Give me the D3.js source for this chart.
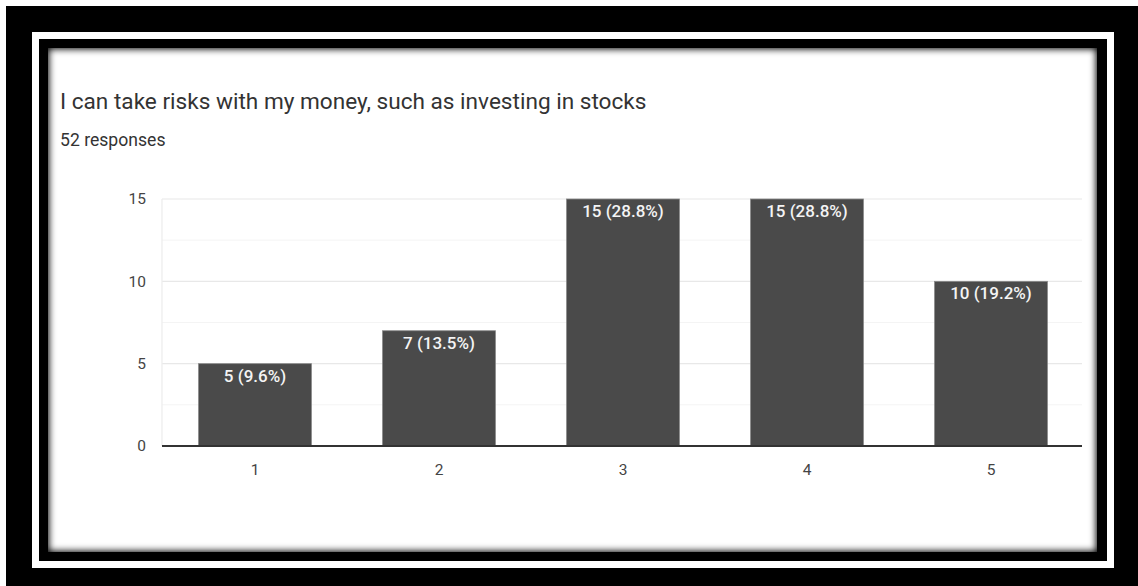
<!DOCTYPE html>
<html>
<head>
<meta charset="utf-8">
<script src="https://cdn.jsdelivr.net/npm/d3@7/dist/d3.min.js"></script>
<style>
  html, body { margin: 0; padding: 0; background: #fff; }
  svg { display: block; }
  text { font-family: Roboto, "Noto Sans", Arial, sans-serif; }
</style>
</head>
<body>
<svg id="chart" width="1138" height="586"></svg>
<script>
// Survey answers on a 1–5 scale
const categories = ["1", "2", "3", "4", "5"];
const counts = [5, 7, 15, 15, 10];
const percents = ["9.6%", "13.5%", "28.8%", "28.8%", "19.2%"];
const yTicks = [0, 5, 10, 15];
const yMinorTicks = [2.5, 7.5, 12.5];
const title = "I can take risks with my money, such as investing in stocks";
const subtitle = "52 responses";

const W = 1138, H = 586;
const svg = d3.select("#chart");

// Framing: black mat with a white rule and an inset white card
svg.append("rect").attr("x", 0).attr("y", 0).attr("width", W).attr("height", H).attr("fill", "#fff");
svg.append("rect").attr("x", 6).attr("y", 6).attr("width", W - 6).attr("height", H - 6).attr("fill", "#000");
svg.append("rect").attr("x", 35.5).attr("y", 35.5).attr("width", 1075).attr("height", 529)
  .attr("fill", "none").attr("stroke", "#fff").attr("stroke-width", 7);

const panel = { x: 48, y: 48, w: 1049, h: 504 };
const defs = svg.append("defs");
defs.append("clipPath").attr("id", "panelClip")
  .append("rect").attr("x", panel.x).attr("y", panel.y).attr("width", panel.w).attr("height", panel.h);
defs.append("filter").attr("id", "soft").attr("x", "-5%").attr("y", "-5%").attr("width", "110%").attr("height", "110%")
  .append("feGaussianBlur").attr("stdDeviation", 3.5);

svg.append("rect").attr("x", panel.x).attr("y", panel.y).attr("width", panel.w).attr("height", panel.h).attr("fill", "#fff");
svg.append("g").attr("clip-path", "url(#panelClip)")
  .append("rect")
  .attr("x", panel.x - 6).attr("y", panel.y - 6).attr("width", panel.w + 12).attr("height", panel.h + 12)
  .attr("fill", "none").attr("stroke", "#000").attr("stroke-width", 14)
  .attr("filter", "url(#soft)");

// Header text
svg.append("text").attr("x", 60).attr("y", 109)
  .attr("font-size", 22.6).attr("fill", "#333").text(title);
svg.append("text").attr("x", 60).attr("y", 146)
  .attr("font-size", 17.6).attr("fill", "#333").text(subtitle);

// Plot area
const plot = { left: 162, right: 1082, top: 199, bottom: 446 };
const x = d3.scaleBand().domain(categories).range([plot.left + 1, plot.right + 1]).paddingInner(0.386).paddingOuter(0.193);
const y = d3.scaleLinear().domain([0, 15]).range([plot.bottom, plot.top]);

const g = svg.append("g");

// Minor and major gridlines
g.selectAll("line.minor").data(yMinorTicks).join("line")
  .attr("x1", plot.left).attr("x2", plot.right)
  .attr("y1", d => y(d)).attr("y2", d => y(d))
  .attr("stroke", "#f4f4f4").attr("stroke-width", 1);
g.selectAll("line.major").data(yTicks.filter(d => d > 0)).join("line")
  .attr("x1", plot.left).attr("x2", plot.right)
  .attr("y1", d => y(d)).attr("y2", d => y(d))
  .attr("stroke", "#e8e8e8").attr("stroke-width", 1.2);
g.append("line")
  .attr("x1", plot.left).attr("x2", plot.left)
  .attr("y1", plot.top).attr("y2", plot.bottom)
  .attr("stroke", "#ececec").attr("stroke-width", 1.2);

// Y axis labels
const yAxis = d3.axisLeft(y).tickValues(yTicks).tickSize(0).tickPadding(16);
const ya = svg.append("g").attr("transform", `translate(${plot.left},0)`).call(yAxis);
ya.select(".domain").remove();
ya.selectAll("text").attr("font-size", 15.5).attr("fill", "#444").attr("font-family", "Roboto, sans-serif");

// Bars
const data = categories.map((c, i) => ({ c, v: counts[i], p: percents[i] }));
g.selectAll("rect.bar").data(data).join("rect")
  .attr("x", d => x(d.c)).attr("width", x.bandwidth())
  .attr("y", d => y(d.v)).attr("height", d => y(0) - y(d.v))
  .attr("fill", "#4a4a4a").attr("stroke", "#8a8a8a").attr("stroke-width", 0.8);

// Value labels inside bar tops
g.selectAll("text.val").data(data).join("text")
  .attr("x", d => x(d.c) + x.bandwidth() / 2).attr("y", d => y(d.v) + 18)
  .attr("text-anchor", "middle").attr("font-size", 17).attr("font-weight", 500)
  .attr("fill", "#f4f4f4").text(d => `${d.v} (${d.p})`);

// X axis baseline and labels
const xAxis = d3.axisBottom(x).tickSize(0).tickPadding(18);
const xa = svg.append("g").attr("transform", `translate(0,${plot.bottom})`).call(xAxis);
xa.select(".domain").remove();
xa.selectAll("text").attr("font-size", 15.5).attr("fill", "#444").attr("font-family", "Roboto, sans-serif");
svg.append("line")
  .attr("x1", plot.left).attr("x2", plot.right)
  .attr("y1", plot.bottom).attr("y2", plot.bottom)
  .attr("stroke", "#333").attr("stroke-width", 2);
</script>
</body>
</html>
